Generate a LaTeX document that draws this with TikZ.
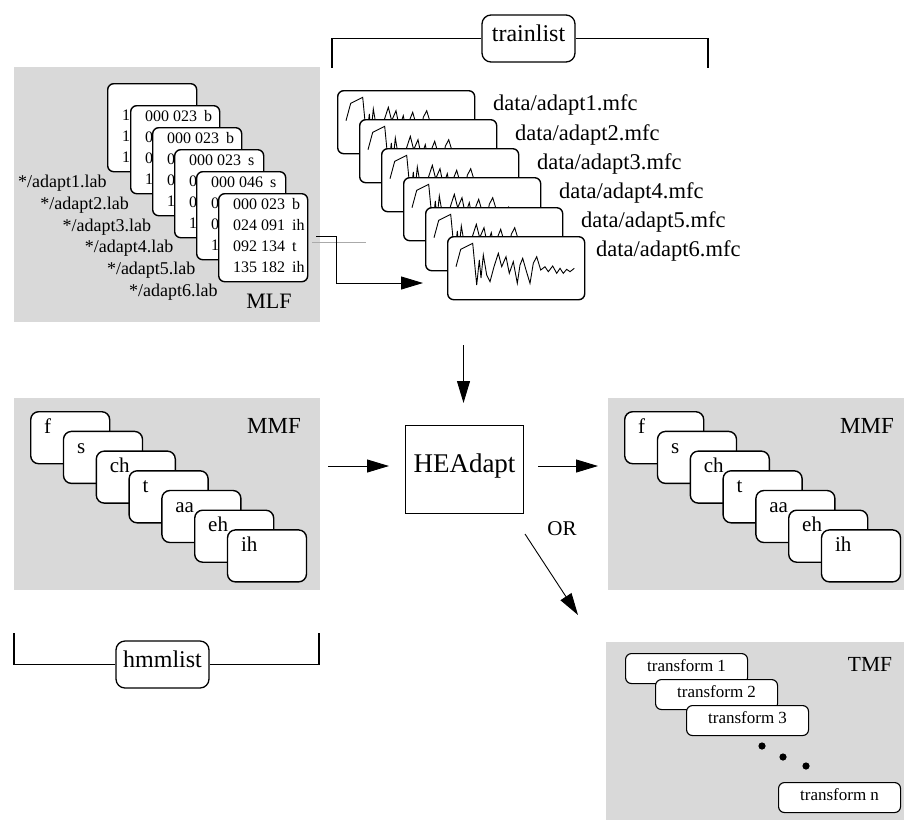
\documentclass[tikz,border=0pt]{standalone}
\usepackage{fontspec}
\setmainfont{Liberation Serif}
\usetikzlibrary{arrows.meta}
\definecolor{bggray}{RGB}{217,217,217}
\definecolor{linegray}{RGB}{170,170,170}
\newcommand{\fsz}[1]{\fontsize{#1}{#1}\selectfont}
\newcommand{\labrow}[5]{%
  \node[cardtxt, anchor=west] (#1n#2) at ([xshift=15pt,yshift=-#3pt]#1.north west) {#4};
  \node[cardtxt, anchor=west] (#1p#2) at ([xshift=74pt,yshift=-#3pt]#1.north west) {#5};
}
\newcommand{\digitrow}[4]{%
  \node[cardtxt, anchor=west] (#1n#2) at ([xshift=15pt,yshift=-#3pt]#1.north west) {#4};
}
\tikzset{
  txt/.style={inner sep=0pt, text height=0.68em, text depth=0pt},
  panel/.style={fill=bggray, draw=none, inner sep=0pt, anchor=north west},
  labcard/.style={draw, fill=white, line width=1.4pt, rounded corners=6pt, inner sep=0pt,
    minimum width=89pt, minimum height=88pt, anchor=north west},
  wavecard/.style={draw, fill=white, line width=1.4pt, rounded corners=6pt, inner sep=0pt,
    minimum width=137pt, minimum height=63pt, anchor=north west},
  hmmcard/.style={draw, fill=white, line width=1.4pt, rounded corners=8pt, inner sep=0pt,
    minimum width=79pt, minimum height=52pt, anchor=north west},
  xformcard/.style={draw, fill=white, line width=1.1pt, rounded corners=6pt, inner sep=0pt,
    minimum width=122pt, minimum height=30pt, anchor=north west, txt, font=\fsz{17}},
  listbox/.style={draw, fill=white, line width=1.3pt, rounded corners=9pt, inner sep=0pt,
    minimum width=93pt, minimum height=47pt, txt, font=\fsz{24}},
  procbox/.style={draw, line width=0.9pt, inner sep=0pt, minimum width=118pt, minimum height=88pt,
    txt, font=\fsz{27}},
  cardtxt/.style={txt, font=\fsz{16}},
  labname/.style={txt, font=\fsz{18}, anchor=west},
  dlabel/.style={txt, font=\fsz{22.5}, anchor=west},
  hmmtxt/.style={txt, font=\fsz{21}, anchor=west},
  paneltitle/.style={txt, font=\fsz{22}},
  bracket/.style={line width=1.3pt},
  arr/.style={line width=0.9pt, -{Triangle[length=22pt,width=13pt]}},
  wavesig/.pic={
    \draw[line width=0.9pt, line join=miter]
      (9,30.7) -- (13.7,13.3) -- (25.7,7.3) -- (29.7,49) -- (32.3,24) -- (34,42) -- (36.3,19)
      -- (39.7,39) -- (43,45.7) -- (47,30.7) -- (51.3,17.3) -- (54.7,30.7) -- (59,20.7)
      -- (62.3,37.3) -- (66.3,25.7) -- (70.3,47.3) -- (73,29) -- (75.7,22.3) -- (79,34)
      -- (83,47.3) -- (86.3,27.3) -- (89.7,20.7) -- (93.7,34) -- (98,30.7) -- (101.3,35.7)
      -- (105.7,30) -- (109.7,37.3) -- (113,32.3) -- (116.3,37.3) -- (119.7,33.3)
      -- (123,35.7) -- (127.3,32.3);
  }
}
\begin{document}
\begin{tikzpicture}[x=1pt,y=-1pt]
\useasboundingbox (0,0) rectangle (904,820);

% ---------- panels ----------
\node[panel, minimum width=306pt, minimum height=255pt] (mlfp) at (14,67) {};
\node[panel, minimum width=306pt, minimum height=192pt] (mmfl) at (14,398) {};
\node[panel, minimum width=296pt, minimum height=192pt] (mmfr) at (608,398) {};
\node[panel, minimum width=298pt, minimum height=178pt] (tmfp) at (606,642) {};

% ---------- MLF ----------
\foreach \i in {1,...,6}
  \node[labname] (ln\i) at ({18+22.2*(\i-1)},{184+21.8*(\i-1)}) {*/adapt\i.lab};
\node[paneltitle] (mlft) at (269,305) {MLF};

\node[labcard] (lab1) at (107,83) {};
\digitrow{lab1}{2}{34}{1}
\digitrow{lab1}{3}{55}{1}
\digitrow{lab1}{4}{76}{1}
\node[labcard] (lab2) at (130,105) {};
\labrow{lab2}{1}{13}{000 023}{b}
\digitrow{lab2}{2}{34}{0}
\digitrow{lab2}{3}{55}{0}
\digitrow{lab2}{4}{76}{1}
\node[labcard] (lab3) at (152,127) {};
\labrow{lab3}{1}{13}{000 023}{b}
\digitrow{lab3}{2}{34}{0}
\digitrow{lab3}{3}{55}{0}
\digitrow{lab3}{4}{76}{1}
\node[labcard] (lab4) at (174,149) {};
\labrow{lab4}{1}{13}{000 023}{s}
\digitrow{lab4}{2}{34}{0}
\digitrow{lab4}{3}{55}{0}
\digitrow{lab4}{4}{76}{1}
\node[labcard] (lab5) at (196,171) {};
\labrow{lab5}{1}{13}{000 046}{s}
\digitrow{lab5}{2}{34}{0}
\digitrow{lab5}{3}{55}{0}
\digitrow{lab5}{4}{76}{1}
\node[labcard] (lab6) at (218,193) {};
\labrow{lab6}{1}{13}{000 023}{b}
\labrow{lab6}{2}{34}{024 091}{ih}
\labrow{lab6}{3}{55}{092 134}{t}
\labrow{lab6}{4}{76}{135 182}{ih}

% ---------- trainlist ----------
\node[listbox] (train) at (528.5,38.5) {trainlist};
\coordinate (trL) at (332,68);
\coordinate (trR) at (708,68);
\draw[bracket] (train.west) -| (trL);
\draw[bracket] (train.east) -| (trR);

\foreach \i/\x/\y in {1/337/90,2/359/119,3/381/148,4/403/177,5/425/207,6/447/236}{
  \node[wavecard] (wav\i) at (\x,\y) {};
  \pic at (wav\i.north west) {wavesig};
}
\foreach \i/\x/\y in {1/493/107,2/515/137,3/537/166,4/559/195,5/581/224,6/596/253}
  \node[dlabel] (dl\i) at (\x,\y) {data/adapt\i.mfc};

% MLF -> data arrow and grey line
\coordinate (glS) at (312,242);
\coordinate (glE) at (366,242);
\draw[linegray, line width=0.9pt] (glS) -- (glE);
\coordinate (mS) at (316,236);
\coordinate (mE) at (423,283);
\draw[arr, line join=miter] (mS) -- ++(20,0) |- (mE);

% ---------- MMF left ----------
\foreach \ph [count=\k from 0] in {f,s,ch,t,aa,eh,ih}{
  \node[hmmcard] (ml\k) at ({30+32.8*\k},{411+19.7*\k}) {};
  \node[hmmtxt] (mlt\k) at ([xshift=14pt,yshift=-19pt]ml\k.north west) {\ph};
}
\node[paneltitle, font=\fsz{23}] (mmflt) at (274,430) {MMF};

% ---------- MMF right ----------
\foreach \ph [count=\k from 0] in {f,s,ch,t,aa,eh,ih}{
  \node[hmmcard] (mr\k) at ({624+32.8*\k},{411+19.7*\k}) {};
  \node[hmmtxt] (mrt\k) at ([xshift=14pt,yshift=-19pt]mr\k.north west) {\ph};
}
\node[paneltitle, font=\fsz{23}] (mmfrt) at (867,430) {MMF};

% ---------- hmmlist ----------
\node[listbox] (hmm) at (162.5,664.5) {hmmlist};
\coordinate (hmL) at (14,633);
\coordinate (hmR) at (319,633);
\draw[bracket] (hmm.west) -| (hmL);
\draw[bracket] (hmm.east) -| (hmR);

% ---------- HEAdapt ----------
\node[procbox] (he) at (464.5,469) {HEAdapt};
\coordinate (dnS) at (463.5,345);
\coordinate (dnE) at (463.5,403);
\draw[arr] (dnS) -- (dnE);
\coordinate (lfS) at (328,466);
\coordinate (lfE) at (389,466);
\draw[arr] (lfS) -- (lfE);
\coordinate (rtS) at (538,466);
\coordinate (rtE) at (598,466);
\draw[arr] (rtS) -- (rtE);
\node[txt, font=\fsz{21}] (ortxt) at (562,532) {OR};
\coordinate (dgS) at (525,534);
\coordinate (dgE) at (578,615);
\draw[arr] (dgS) -- (dgE);

% ---------- TMF ----------
\node[xformcard] (tf1) at (625,653) {transform 1};
\node[xformcard] (tf2) at (655,679) {transform 2};
\node[xformcard] (tf3) at (686,705) {transform 3};
\fill (762,746) circle (3.6pt);
\fill (783,757) circle (3.6pt);
\fill (806,766) circle (3.6pt);
\node[xformcard] (tfn) at (778,782) {transform n};
\node[paneltitle, font=\fsz{21.5}] (tmft) at (870,668) {TMF};
\end{tikzpicture}
\end{document}
